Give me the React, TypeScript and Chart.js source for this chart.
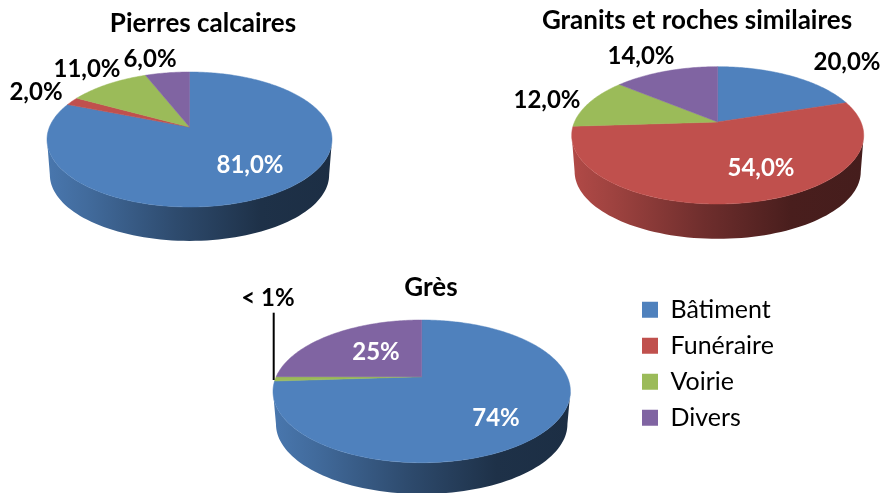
import React, { useEffect, useRef } from "react";
import { Chart, registerables } from "chart.js";

Chart.register(...registerables);

const categories = ["Bâtiment", "Funéraire", "Voirie", "Divers"];
const calcaireValues = [81, 2, 11, 6];
const granitValues = [20, 54, 12, 14];
const gresValues = [74, 0, 1, 25];
const calcaireLabels = ["81,0%", "2,0%", "11,0%", "6,0%"];
const granitLabels = ["20,0%", "54,0%", "12,0%", "14,0%"];
const gresLabels = ["74%", "", "< 1%", "25%"];
const titles = ["Pierres calcaires", "Granits et roches similaires", "Grès"];

const colors = ["#4F81BD", "#C0504D", "#9BBB59", "#8064A2"];
const FONT = "Lato, 'Open Sans', sans-serif";

type Geo = {
  ax: number; ay: number; A: number; B: number; k: number; d: number; s: number;
  titleX: number; titleTop: number; titleBottom: number;
  labelPos: [number, number][]; labelColor: string[];
  leader?: [number, number, number];
  legend?: [number, number];
};

const geoOf = (rx: number, up: number, down: number) => {
  const ratio = down / up;
  const k = (ratio - 1) / (ratio + 1);
  return { k, A: rx * Math.sqrt(1 - k * k), B: up * (1 + k) };
};

const geos: Geo[] = [
  {
    ax: 189.5, ay: 127, ...geoOf(142.5, 55, 80), d: 35.5, s: 0.98,
    titleX: 203, titleTop: 8, titleBottom: 0,
    labelPos: [[250, 165], [36, 92], [87, 69], [150, 59]],
    labelColor: ["#fff", "#000", "#000", "#000"],
  },
  {
    ax: 717.7, ay: 122, ...geoOf(146, 55.3, 82), d: 36.5, s: 0.98,
    titleX: 697, titleTop: 5, titleBottom: 0,
    labelPos: [[847, 62], [761, 168], [547, 100], [641, 56]],
    labelColor: ["#000", "#fff", "#000", "#000"],
  },
  {
    ax: 421.7, ay: 376.7, ...geoOf(148.7, 56.7, 86), d: 33, s: 0.98,
    titleX: 431, titleTop: 272, titleBottom: 6,
    labelPos: [[496, 418], [0, 0], [268, 298], [376, 352]],
    labelColor: ["#fff", "#000", "#000", "#fff"],
    leader: [273.7, 312.7, 380],
    legend: [631, 286.2],
  },
];

const shade = (hex: string, f: number) => {
  const n = parseInt(hex.slice(1), 16);
  const c = [(n >> 16) & 255, (n >> 8) & 255, n & 255].map((v) => Math.round(v * f));
  return `rgb(${c[0]},${c[1]},${c[2]})`;
};

const pie3d = {
  id: "pie3d",
  beforeDraw(chart: any, _a: any, opts: any) {
    const g: Geo = opts.geo;
    if (chart.titleBlock) {
      chart.titleBlock.left = g.titleX - 300;
      chart.titleBlock.right = g.titleX + 300;
    }
    if (g.legend && chart.legend) {
      chart.legend.left = g.legend[0];
      chart.legend.top = g.legend[1];
    }
  },
  beforeDatasetsDraw(chart: any, _a: any, opts: any) {
    const g: Geo = opts.geo;
    const texts: string[] = opts.texts;
    const ctx = chart.ctx;
    const arcs = chart.getDatasetMeta(0).data;
    const bg = chart.data.datasets[0].backgroundColor;
    const top = (t: number): [number, number] => {
      const w = 1 - g.k * Math.sin(t);
      return [g.ax + (g.A * Math.cos(t)) / w, g.ay + (g.B * Math.sin(t)) / w];
    };
    const low = (t: number): [number, number] => {
      const w = 1 - g.k * Math.sin(t);
      return [g.ax + (g.s * g.A * Math.cos(t)) / w, g.ay + g.d + (g.s * g.B * Math.sin(t)) / w];
    };
    const t0 = Math.asin(g.k);
    const t1 = Math.PI - t0;
    const rim = g.A / Math.sqrt(1 - g.k * g.k);
    ctx.save();
    // side wall
    arcs.forEach((el: any, i: number) => {
      const { startAngle, endAngle } = el.getProps(["startAngle", "endAngle"], true);
      for (const off of [0, -2 * Math.PI, 2 * Math.PI]) {
        const a = Math.max(startAngle + off, t0);
        const b = Math.min(endAngle + off, t1);
        if (b <= a) continue;
        const grad = ctx.createLinearGradient(g.ax - rim, 0, g.ax + rim, 0);
        grad.addColorStop(0, shade(bg[i], 0.92));
        grad.addColorStop(0.15, shade(bg[i], 0.82));
        grad.addColorStop(0.45, shade(bg[i], 0.58));
        grad.addColorStop(0.75, shade(bg[i], 0.38));
        grad.addColorStop(1, shade(bg[i], 0.36));
        ctx.beginPath();
        const n = 80;
        for (let j = 0; j <= n; j++) {
          const p = top(a + ((b - a) * j) / n);
          j === 0 ? ctx.moveTo(p[0], p[1]) : ctx.lineTo(p[0], p[1]);
        }
        for (let j = n; j >= 0; j--) {
          const p = low(a + ((b - a) * j) / n);
          ctx.lineTo(p[0], p[1]);
        }
        ctx.closePath();
        ctx.fillStyle = grad;
        ctx.fill();
      }
    });
    // top face
    arcs.forEach((el: any, i: number) => {
      const { startAngle, endAngle } = el.getProps(["startAngle", "endAngle"], true);
      if (endAngle - startAngle <= 0) return;
      ctx.beginPath();
      ctx.moveTo(g.ax, g.ay);
      const n = Math.max(4, Math.ceil((endAngle - startAngle) * 60));
      for (let j = 0; j <= n; j++) {
        const p = top(startAngle + ((endAngle - startAngle) * j) / n);
        ctx.lineTo(p[0], p[1]);
      }
      ctx.closePath();
      ctx.fillStyle = bg[i];
      ctx.strokeStyle = bg[i];
      ctx.lineWidth = 0.5;
      ctx.fill();
      ctx.stroke();
    });
    if (g.leader) {
      ctx.beginPath();
      ctx.moveTo(g.leader[0], g.leader[1]);
      ctx.lineTo(g.leader[0], g.leader[2]);
      ctx.strokeStyle = "#000";
      ctx.lineWidth = 2;
      ctx.stroke();
    }
    ctx.font = `bold 24px ${FONT}`;
    ctx.textAlign = "center";
    ctx.textBaseline = "middle";
    texts.forEach((t, i) => {
      if (!t) return;
      ctx.fillStyle = g.labelColor[i];
      ctx.fillText(t, g.labelPos[i][0], g.labelPos[i][1]);
    });
    ctx.restore();
    return false;
  },
};

const series = [calcaireValues, granitValues, gresValues];
const seriesLabels = [calcaireLabels, granitLabels, gresLabels];

function Pie({ index }: { index: number }) {
  const ref = useRef<HTMLCanvasElement>(null);
  useEffect(() => {
    const g = geos[index];
    const chart = new Chart(ref.current as HTMLCanvasElement, {
      type: "pie",
      data: {
        labels: categories,
        datasets: [{ data: series[index], backgroundColor: colors, borderWidth: 0 }],
      },
      plugins: [pie3d],
      options: {
        responsive: false,
        animation: false,
        events: [],
        plugins: {
          pie3d: { geo: g, texts: seriesLabels[index] },
          tooltip: { enabled: false },
          title: {
            display: true,
            text: titles[index],
            color: "#000",
            font: { family: FONT, size: 26, weight: "bold" },
            padding: { top: g.titleTop, bottom: g.titleBottom },
          },
          legend: g.legend
            ? {
                display: true,
                position: "right",
                align: "start",
                labels: {
                  boxWidth: 16,
                  boxHeight: 16,
                  padding: 11,
                  color: "#000",
                  font: { family: FONT, size: 25 },
                },
              }
            : { display: false },
        },
      } as any,
    });
    return () => chart.destroy();
  }, [index]);
  return (
    <canvas
      ref={ref}
      width={883}
      height={493}
      style={{ position: "absolute", left: 0, top: 0 }}
    />
  );
}

export default function App() {
  return (
    <div style={{ position: "absolute", left: 0, top: 0, width: 883, height: 493, overflow: "hidden", background: "#fff" }}>
      <Pie index={0} />
      <Pie index={1} />
      <Pie index={2} />
    </div>
  );
}
